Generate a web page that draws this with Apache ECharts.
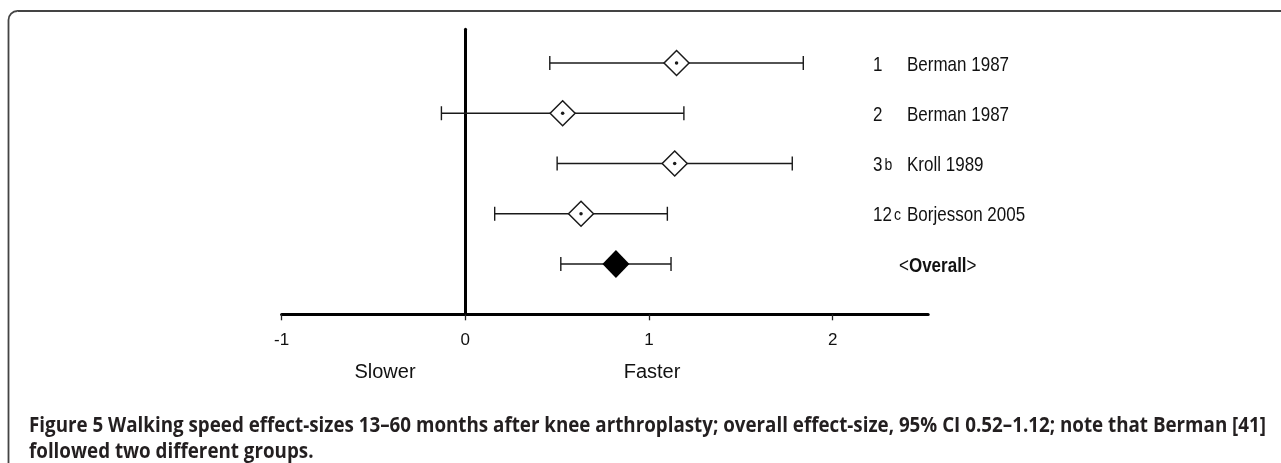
<!DOCTYPE html>
<html>
<head>
<meta charset="utf-8">
<script src="https://cdn.jsdelivr.net/npm/echarts@6/dist/echarts.min.js"></script>
<style>
  html, body { margin: 0; padding: 0; background: #fff; }
  #forestChart { width: 1281px; height: 463px; }
</style>
</head>
<body>
<div id="forestChart"></div>
<script>
// study rows, top to bottom
const studyIds = ['1', '2', '3', '12', '']
const studySuffix = ['', '', 'b', 'c', '']
const studyNames = ['Berman 1987', 'Berman 1987', 'Kroll 1989', 'Borjesson 2005', 'Overall']
const effectSize = [1.15, 0.53, 1.14, 0.63, 0.82]
const ciLow = [0.46, -0.13, 0.50, 0.16, 0.52]
const ciHigh = [1.84, 1.19, 1.78, 1.10, 1.12]
const xTicks = [-1, 0, 1, 2]
const captionLine1 = 'Walking speed effect-sizes 13–60 months after knee arthroplasty; overall effect-size, 95% CI 0.52–1.12; note that Berman [41]'
const captionLine2 = 'followed two different groups.'

const chartBox = echarts.init(document.getElementById('forestChart'))

const rows = studyNames.map((n, i) => i + 1)
const lastRow = rows.length
const studyPoints = rows.slice(0, lastRow - 1).map((r, i) => [effectSize[i], r])
const overallPoint = [[effectSize[lastRow - 1], lastRow]]
const barData = rows.map((r, i) => [ciLow[i], ciHigh[i], r])
const labelData = rows.map((r, i) => [0, r, i])

// caption font is a condensed face, squeeze Open Sans to the same width
const capFont = '"Open Sans", "Noto Sans", sans-serif'
const ctx = document.createElement('canvas').getContext('2d')
ctx.font = 'bold 22px ' + capFont
const capW = ctx.measureText('Figure 5 ' + captionLine1).width
const capScale = (1266 - 29) / capW

const lineStyle = { stroke: '#1a1a1a', lineWidth: 1.4 }
const arial = '"Liberation Sans", Arial, sans-serif'

const option = {
  backgroundColor: '#fff',
  animation: false,
  grid: { left: 281.6, width: 646.6, top: 29.3, height: 285 },
  xAxis: {
    type: 'value',
    min: -1,
    max: 2.52,
    interval: 1,
    splitLine: { show: false },
    axisLine: { onZero: false, lineStyle: { color: '#000', width: 3 } },
    axisTick: { show: true, length: 6, customValues: xTicks, lineStyle: { color: '#222', width: 1.3 } },
    axisLabel: {
      customValues: xTicks,
      margin: 26,
      verticalAlign: 'middle',
      fontFamily: arial,
      fontSize: 17,
      color: '#111'
    }
  },
  yAxis: {
    type: 'value',
    inverse: true,
    min: 0.33,
    max: 6,
    splitLine: { show: false },
    axisLine: { show: true, onZero: true, lineStyle: { color: '#000', width: 3 } },
    axisTick: { show: false },
    axisLabel: { show: false }
  },
  graphic: [
    {
      type: 'rect',
      shape: { x: 8.5, y: 11, width: 1400, height: 600, r: 9 },
      style: { fill: 'none', stroke: '#444', lineWidth: 1.8 },
      silent: true
    },
    {
      type: 'text', x: 385, y: 372,
      style: { text: 'Slower', fontFamily: arial, fontSize: 20, fill: '#111', align: 'center', verticalAlign: 'middle' }
    },
    {
      type: 'text', x: 652, y: 372,
      style: { text: 'Faster', fontFamily: arial, fontSize: 20, fill: '#111', align: 'center', verticalAlign: 'middle' }
    },
    {
      type: 'text', x: 29, y: 426, scaleX: capScale,
      style: {
        text: '{f|Figure 5 }{t|' + captionLine1 + '}',
        verticalAlign: 'middle',
        rich: {
          f: { fontFamily: capFont, fontWeight: 'bold', fontSize: 22, fill: '#231f20' },
          t: { fontFamily: capFont, fontWeight: 'bold', fontSize: 22, fill: '#231f20' }
        }
      }
    },
    {
      type: 'text', x: 29, y: 451.5, scaleX: capScale,
      style: { text: captionLine2, fontFamily: capFont, fontWeight: 'bold', fontSize: 22, fill: '#231f20', verticalAlign: 'middle' }
    }
  ],
  series: [
    {
      name: 'ci',
      type: 'custom',
      data: barData,
      encode: { x: [0, 1], y: 2 },
      z: 2,
      renderItem: function (params, api) {
        const row = api.value(2)
        const lo = api.coord([api.value(0), row])
        const hi = api.coord([api.value(1), row])
        const cap = 7
        return {
          type: 'group',
          children: [
            { type: 'line', shape: { x1: lo[0], y1: lo[1], x2: hi[0], y2: hi[1] }, style: lineStyle },
            { type: 'line', shape: { x1: lo[0], y1: lo[1] - cap, x2: lo[0], y2: lo[1] + cap }, style: lineStyle },
            { type: 'line', shape: { x1: hi[0], y1: hi[1] - cap, x2: hi[0], y2: hi[1] + cap }, style: lineStyle }
          ]
        }
      }
    },
    {
      name: 'studies',
      type: 'scatter',
      data: studyPoints,
      symbol: 'diamond',
      symbolSize: 25,
      z: 3,
      itemStyle: { color: '#fff', borderColor: '#1a1a1a', borderWidth: 1.5, opacity: 1 }
    },
    {
      name: 'dots',
      type: 'scatter',
      data: studyPoints,
      symbol: 'circle',
      symbolSize: 3.5,
      z: 4,
      itemStyle: { color: '#1a1a1a', opacity: 1 }
    },
    {
      name: 'overall',
      type: 'scatter',
      data: overallPoint,
      symbol: 'diamond',
      symbolSize: [27, 28],
      z: 3,
      itemStyle: { color: '#000', opacity: 1 }
    },
    {
      name: 'labels',
      type: 'custom',
      data: labelData,
      encode: { x: 0, y: 1 },
      z: 5,
      renderItem: function (params, api) {
        const i = api.value(2)
        const y = api.coord([0, api.value(1)])[1] + 2
        if (studyIds[i] === '') {
          return {
            type: 'text', x: 899, y: y, scaleY: 1.2,
            style: {
              text: '{n|<}{b|' + studyNames[i] + '}{n|>}',
              verticalAlign: 'middle',
              rich: {
                n: { fontFamily: arial, fontSize: 17, fill: '#111' },
                b: { fontFamily: arial, fontSize: 17, fontWeight: 'bold', fill: '#111' }
              }
            }
          }
        }
        return {
          type: 'group',
          children: [
            {
              type: 'text', x: 873, y: y, scaleY: 1.2,
              style: {
                text: '{id|' + studyIds[i] + '}' + (studySuffix[i] ? '{s|' + studySuffix[i] + '}' : ''),
                verticalAlign: 'middle',
                rich: {
                  id: { fontFamily: arial, fontSize: 17, fill: '#111' },
                  s: { fontFamily: arial, fontSize: 14, fill: '#111', padding: [0, 0, 0, 2] }
                }
              }
            },
            {
              type: 'text', x: 907, y: y, scaleY: 1.2,
              style: { text: studyNames[i], fontFamily: arial, fontSize: 17, fill: '#111', verticalAlign: 'middle' }
            }
          ]
        }
      }
    }
  ]
}

chartBox.setOption(option, true)
window.addEventListener('resize', function () {
  chartBox.resize()
})
</script>
</body>
</html>
